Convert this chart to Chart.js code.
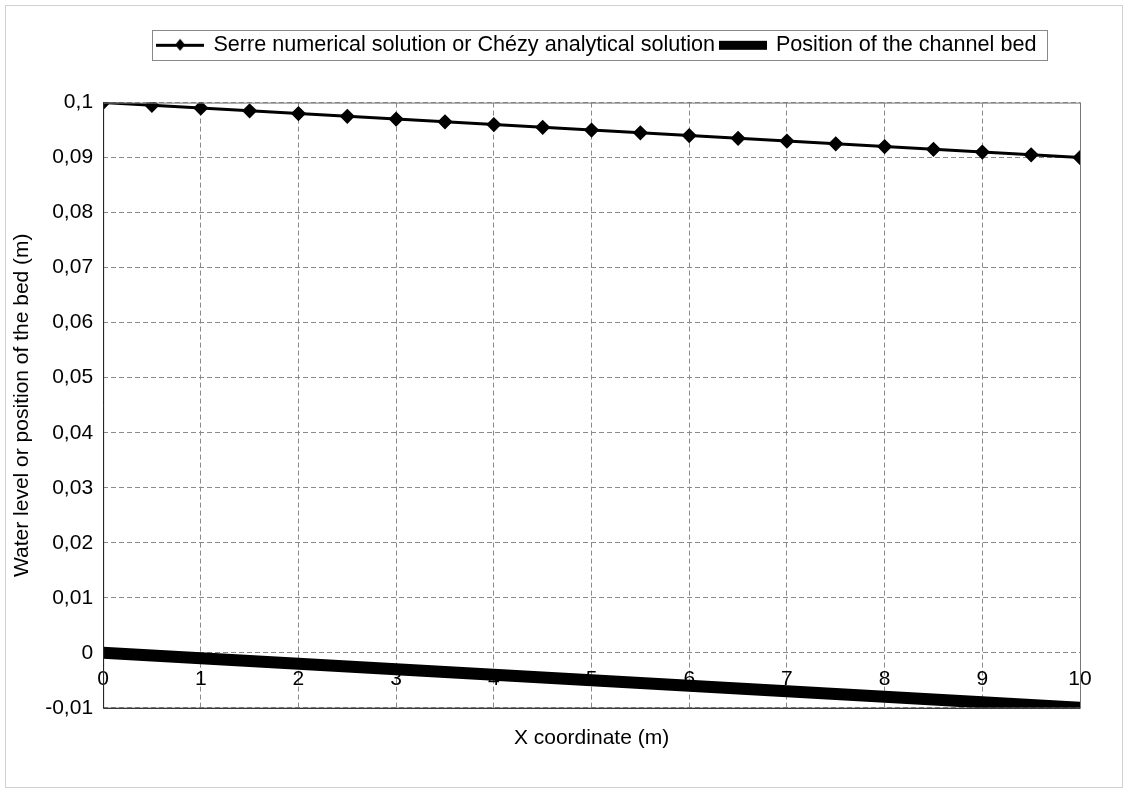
<!DOCTYPE html>
<html>
<head>
<meta charset="utf-8">
<script src="https://cdn.jsdelivr.net/npm/chart.js@4.4.1/dist/chart.umd.min.js"></script>
<style>
  html, body { margin: 0; padding: 0; background: #fff; }
  #wrap { width: 1128px; height: 793px; position: relative; }
</style>
</head>
<body>
<div id="wrap"><canvas id="niva" width="1128" height="793"></canvas></div>
<script>
// x-koordinater (m) og verdier
const xPos = [0, 0.5, 1, 1.5, 2, 2.5, 3, 3.5, 4, 4.5, 5, 5.5, 6, 6.5, 7, 7.5, 8, 8.5, 9, 9.5, 10];
const waterLevel = [0.1, 0.0995, 0.099, 0.0985, 0.098, 0.0975, 0.097, 0.0965, 0.096, 0.0955, 0.095,
                    0.0945, 0.094, 0.0935, 0.093, 0.0925, 0.092, 0.0915, 0.091, 0.0905, 0.09];
const bedX = [0, 1, 2, 3, 4, 5, 6, 7, 8, 9, 10];
const bedLevel = [0, -0.001, -0.002, -0.003, -0.004, -0.005, -0.006, -0.007, -0.008, -0.009, -0.01];
const xTicks = [0, 1, 2, 3, 4, 5, 6, 7, 8, 9, 10];
const yTicks = [-0.01, 0, 0.01, 0.02, 0.03, 0.04, 0.05, 0.06, 0.07, 0.08, 0.09, 0.1];

const FONT = 'Liberation Sans, Arial, sans-serif';

// små ikoner til legenden
function legendIcon(thick) {
    const c = document.createElement('canvas');
    c.width = 48; c.height = 14;
    const g = c.getContext('2d');
    g.fillStyle = '#000';
    if (thick) {
        g.fillRect(0, 3, 48, 9);
    } else {
        g.fillRect(0, 6, 48, 3);
        g.beginPath();
        g.moveTo(24, 1); g.lineTo(29, 7); g.lineTo(24, 13); g.lineTo(19, 7);
        g.closePath(); g.fill();
    }
    return c;
}

function fmt(v) {
    const r = Math.round(v * 100) / 100;
    return String(r).replace('.', ',');
}

// legenden skal ha luft under seg og ligge litt til høyre
const legendSpace = {
    id: 'legendSpace',
    beforeInit(chart) {
        const fit = chart.legend.fit;
        chart.legend.fit = function () {
            fit.call(this);
            this.height += 37;
        };
    },
    afterLayout(chart) {
        chart.legend.left += 52;
        chart.legend.right += 52;
    }
};

// ramme rundt plottet, legenden og hele figuren
const framePlugin = {
    id: 'frames',
    afterDraw(chart) {
        const ctx = chart.ctx;
        const a = chart.chartArea;
        ctx.save();
        ctx.strokeStyle = '#d0d0d0';
        ctx.lineWidth = 1;
        ctx.strokeRect(5.5, 5.5, chart.width - 11, chart.height - 11);
        ctx.strokeStyle = '#777';
        ctx.strokeRect(a.left + 0.5, a.top + 0.5, a.right - a.left, a.bottom - a.top);
        ctx.strokeStyle = '#222';
        ctx.beginPath();
        ctx.moveTo(a.left + 0.5, a.top);
        ctx.lineTo(a.left + 0.5, a.bottom + 0.5);
        ctx.lineTo(a.right, a.bottom + 0.5);
        ctx.stroke();
        const hb = chart.legend.legendHitBoxes;
        if (hb && hb.length) {
            const l = Math.min(...hb.map(h => h.left)) - 6;
            const r = Math.max(...hb.map(h => h.left + h.width)) + 10;
            const cy = hb[0].top + hb[0].height / 2;
            ctx.strokeStyle = '#888';
            ctx.strokeRect(Math.round(l) + 0.5, Math.round(cy - 15) + 0.5, Math.round(r - l), 30);
        }
        ctx.restore();
    }
};

new Chart(document.getElementById('niva'), {
    type: 'line',
    data: {
        datasets: [
            {
                label: 'Serre numerical solution or Chézy analytical solution',
                data: xPos.map((x, i) => ({ x: x, y: waterLevel[i] })),
                borderColor: '#000',
                backgroundColor: '#000',
                borderWidth: 3,
                pointStyle: 'rectRot',
                pointRadius: 5.5,
                pointBackgroundColor: '#000',
                pointBorderColor: '#000',
                tension: 0
            },
            {
                label: 'Position of the channel bed',
                data: bedX.map((x, i) => ({ x: x, y: bedLevel[i] })),
                borderColor: '#000',
                backgroundColor: '#000',
                borderWidth: 12,
                pointRadius: 0,
                tension: 0
            }
        ]
    },
    options: {
        responsive: false,
        animation: false,
        layout: { padding: { left: 10, right: 48, top: 29, bottom: 42 } },
        plugins: {
            legend: {
                position: 'top',
                labels: {
                    usePointStyle: true,
                    pointStyleWidth: 45,
                    padding: 5,
                    color: '#000',
                    font: { family: FONT, size: 21.6 },
                    generateLabels(chart) {
                        return chart.data.datasets.map((ds, i) => ({
                            text: ds.label,
                            pointStyle: legendIcon(i === 1),
                            datasetIndex: i,
                            fontColor: '#000',
                            lineWidth: 0
                        }));
                    }
                }
            },
            tooltip: { enabled: false }
        },
        scales: {
            x: {
                type: 'linear',
                min: 0, max: 10,
                afterBuildTicks(s) { s.ticks = xTicks.map(v => ({ value: v })); },
                ticks: { display: false },
                grid: { color: '#8a8a8a', drawTicks: false },
                border: { display: false, dash: [5, 3] },
                title: {
                    display: true,
                    text: 'X coordinate (m)',
                    color: '#000',
                    font: { family: FONT, size: 21 },
                    padding: { top: 18, bottom: 0 }
                }
            },
            x2: {
                type: 'linear',
                position: { y: 0 },
                min: 0, max: 10,
                afterBuildTicks(s) { s.ticks = xTicks.map(v => ({ value: v })); },
                grid: { display: false },
                border: { display: false },
                ticks: { color: '#000', padding: 6, font: { family: FONT, size: 21 } }
            },
            y: {
                min: -0.01, max: 0.1,
                afterBuildTicks(s) { s.ticks = yTicks.map(v => ({ value: v })); },
                grid: { color: '#8a8a8a', drawTicks: false },
                border: { display: false, dash: [5, 3] },
                ticks: {
                    color: '#000',
                    padding: 10,
                    font: { family: FONT, size: 21 },
                    callback: v => fmt(v)
                },
                title: {
                    display: true,
                    text: 'Water level or position of the bed (m)',
                    color: '#000',
                    font: { family: FONT, size: 21 },
                    padding: { top: 0, bottom: 0 }
                }
            }
        }
    },
    plugins: [legendSpace, framePlugin]
});
</script>
</body>
</html>
